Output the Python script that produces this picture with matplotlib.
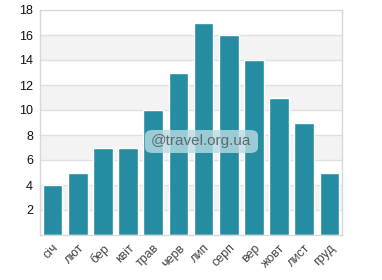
import matplotlib
matplotlib.use("Agg")
import matplotlib.pyplot as plt
from matplotlib.patches import FancyBboxPatch

months = ["січ", "лют", "бер", "квіт", "трав", "черв", "лип", "серп", "вер", "жовт", "лист", "груд"]
values = [4, 5, 7, 7, 10, 13, 17, 16, 14, 11, 9, 5]
yticks = [2, 4, 6, 8, 10, 12, 14, 16, 18]

plt.rcParams['font.family'] = ['Liberation Sans', 'DejaVu Sans']
fig = plt.figure(figsize=(3.82, 2.80), dpi=100)
ax = fig.add_axes([40/382, 45/280, 302/382, 225/280])

# alternate bands
for lo in range(2, 18, 4):
    ax.axhspan(lo, lo + 2, color='#f3f3f3', zorder=0, lw=0)
for y in yticks[:-1]:
    ax.axhline(y, color='#e0e0e0', lw=1, zorder=1)

x = list(range(len(months)))
ax.bar(x, values, width=0.78, color='#258ca2', edgecolor='white', linewidth=1, zorder=2)

ax.set_xlim(-0.5, 11.5)
ax.set_ylim(0, 18)
ax.set_yticks(yticks)
ax.set_yticklabels([str(v) for v in yticks], fontsize=9, color='#111111')
ax.set_xticks(x)
ax.set_xticklabels(months, rotation=45, ha='right', rotation_mode='anchor', fontsize=9, color='#444444')
ax.tick_params(axis='both', length=0, pad=5)
for s in ax.spines.values():
    s.set_color('#d8d8d8')
    s.set_linewidth(1)

# watermark
box = FancyBboxPatch((145/382, (280-153)/280), 113/382, 23/280,
                     boxstyle="round,pad=0,rounding_size=0.02",
                     transform=fig.transFigure, facecolor='#b9dce3', edgecolor='none',
                     alpha=0.8, zorder=5)
fig.patches.append(box)
fig.text(201/382, (280-141.5)/280, "@travel.org.ua", ha='center', va='center',
         fontsize=11, color='#5e6a70', zorder=6)

fig.savefig("out.png", dpi=100)
